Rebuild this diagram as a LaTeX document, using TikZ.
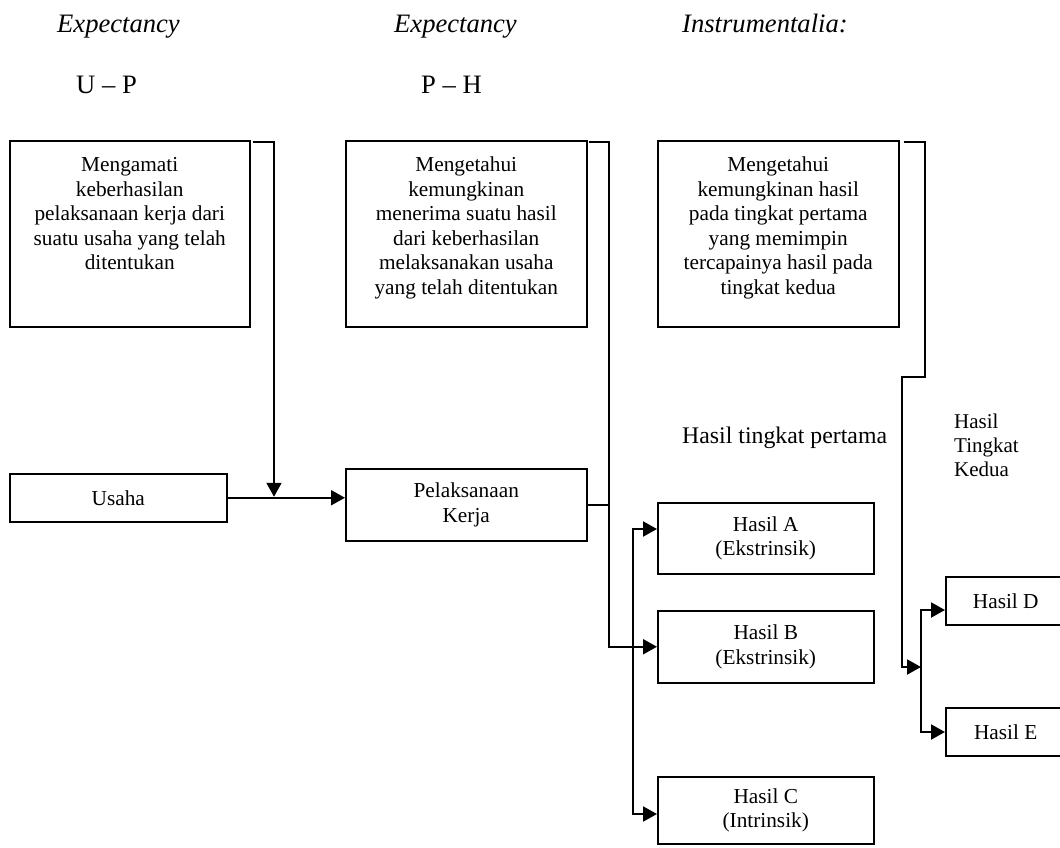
\documentclass[tikz,border=0pt]{standalone}
\usepackage{fontspec}
\setmainfont{Liberation Serif}
\usetikzlibrary{arrows.meta,calc}
\newcommand\dgBox{\fontsize{21.3pt}{24.5pt}\selectfont}
\newcommand\dgHead{\fontsize{26.6pt}{30pt}\selectfont}
\newcommand\dgMid{\fontsize{23.8pt}{27pt}\selectfont}
\newcommand\dgSide{\fontsize{21pt}{24pt}\selectfont}
\newcommand\tbx[3]{\parbox[c][#2][t]{#1}{\centering\vspace*{13.9pt}\strut #3}}
\begin{document}
\begin{tikzpicture}[x=1pt,y=-1pt,
  topb/.style={draw,line width=1.5pt,inner sep=0pt,anchor=north west,font=\dgBox},
  box/.style={draw,line width=1.5pt,inner sep=0pt,anchor=north west,align=center,font=\dgBox},
  lbl/.style={inner sep=0pt,anchor=base west},
  conn/.style={line width=2pt},
  arr/.style={conn,-{Triangle[length=14pt,width=15pt]}},
  arrtwo/.style={conn,{Triangle[length=14pt,width=15pt]}-{Triangle[length=14pt,width=15pt]}},
]
\useasboundingbox (0,0) rectangle (1060,847);
\clip (0,0) rectangle (1060,847);
\fill[white] (0,0) rectangle (1060,847);

% headers
\node[lbl,font=\dgHead\itshape] (h1) at (57,32) {Expectancy};
\node[lbl,font=\dgHead] (h2) at (76,93) {U – P};
\node[lbl,font=\dgHead\itshape] (h3) at (394,32) {Expectancy};
\node[lbl,font=\dgHead] (h4) at (421,93) {P – H};
\node[lbl,font=\dgHead\itshape] (h5) at (682,32) {Instrumentalia:};

% top boxes
\node[topb] (b1) at (9,140) {\tbx{240pt}{186pt}{Mengamati\\keberhasilan\\pelaksanaan kerja dari\\suatu usaha yang telah\\ditentukan}};
\node[topb] (b2) at (345,140) {\tbx{241pt}{186pt}{Mengetahui\\kemungkinan\\menerima suatu hasil\\dari keberhasilan\\melaksanakan usaha\\yang telah ditentukan}};
\node[topb] (b3) at (657,140) {\tbx{241pt}{186pt}{Mengetahui\\kemungkinan hasil\\pada tingkat pertama\\yang memimpin\\tercapainya hasil pada\\tingkat kedua}};

% main boxes
\node[box,minimum width=217pt,minimum height=48pt] (us) at (9,473) {Usaha};
\node[box,minimum width=241pt,minimum height=72pt] (pk) at (345,468) {Pelaksanaan\\Kerja};
\node[box,minimum width=216pt,minimum height=71pt] (ha) at (657,502) {Hasil A\\(Ekstrinsik)};
\node[box,minimum width=216pt,minimum height=72pt] (hb) at (657,610) {Hasil B\\(Ekstrinsik)};
\node[box,minimum width=216pt,minimum height=67pt] (hc) at (657,776) {Hasil C\\(Intrinsik)};
\node[box,minimum width=120pt,minimum height=48pt] (hd) at (945,576) {Hasil D};
\node[box,minimum width=120pt,minimum height=48pt] (he) at (945,707) {Hasil E};

% side labels
\node[lbl,font=\dgMid] (t1) at (682,443) {Hasil tingkat pertama};
\node[inner sep=0pt,anchor=north west,align=left,font=\dgSide] (t2) at (954,413.5) {Hasil\\Tingkat\\Kedua};

% connectors
\coordinate (j1) at (274,0);
\coordinate (j1t) at ($(j1 |- us.east)+(0,-1)$);
\draw[arr] ([xshift=2pt,yshift=-2pt]b1.north east) -| (j1t);
\draw[arr] (us.east) -- (us.east -| pk.west);

\coordinate (j2) at (609,0);
\draw[arr] ([xshift=1pt,yshift=-2pt]b2.north east) -| (j2 |- hb.west) -- (hb.west);
\draw[conn] (pk.east) -- (pk.east -| j2);

\coordinate (dA) at (633,529);
\coordinate (dC) at (633,814);
\draw[arrtwo] (dA -| ha.west) -- (dA) -- (dC) -- (dC -| hc.west);

\coordinate (k1) at (925,0);
\coordinate (k2) at (902,377);
\coordinate (m) at (902,667);
\coordinate (dD) at (921,610);
\coordinate (dE) at (921,732);
\draw[arr] ([xshift=4pt,yshift=-2pt]b3.north east) -| (k2 -| k1) -- (k2) -- (m) -- (m -| dD);
\draw[arrtwo] (dD -| hd.west) -- (dD) -- (dE) -- (dE -| he.west);
\end{tikzpicture}
\end{document}
